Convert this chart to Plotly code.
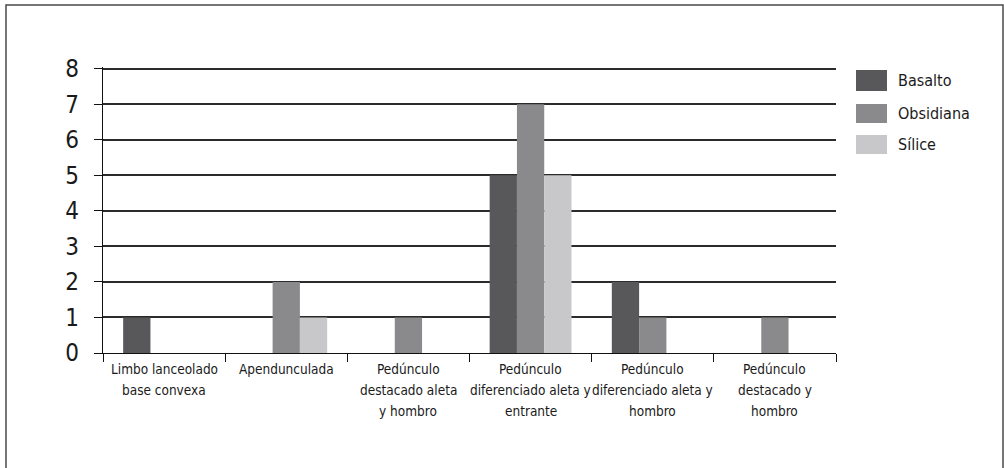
import plotly.graph_objects as go

categories = [
    "Limbo lanceolado<br>base convexa",
    "Apendunculada",
    "Pedúnculo<br>destacado aleta<br>y hombro",
    "Pedúnculo<br>diferenciado aleta y<br>entrante",
    "Pedúnculo<br>diferenciado aleta y<br>hombro",
    "Pedúnculo<br>destacado y<br>hombro",
]
series_names = ["Basalto", "Obsidiana", "Sílice"]
basalto = [1, 0, 0, 5, 2, 0]
obsidiana = [0, 2, 1, 7, 1, 1]
silice = [0, 1, 0, 5, 0, 0]
colors = ["#58585a", "#8a8a8c", "#c8c8ca"]
y_ticks = [0, 1, 2, 3, 4, 5, 6, 7, 8]

FONT = "DejaVu Sans Condensed, Liberation Sans Narrow, sans-serif"

W, H = 1004, 468
L, R, T, B = 103, 836, 67, 353  # plot area in pixels


def px(x):
    return (x - L) / (R - L)


def py(y):
    return (B - y) / (B - T)


fig = go.Figure()
for name, vals, col in zip(series_names, [basalto, obsidiana, silice], colors):
    fig.add_trace(go.Bar(
        name=name, x=categories, y=vals,
        marker=dict(color=col, line=dict(width=0)),
        showlegend=False,
    ))

shapes = [
    dict(type="rect", xref="paper", yref="paper",
         x0=px(6), x1=px(1003), y0=py(480), y1=py(5),
         line=dict(color="#4a4a4a", width=1.5), fillcolor="rgba(0,0,0,0)"),
]
annotations = []
leg_y = [(70, 91), (104, 123), (135, 154)]
for name, col, (y0, y1) in zip(series_names, colors, leg_y):
    shapes.append(dict(type="rect", xref="paper", yref="paper",
                       x0=px(856), x1=px(887), y0=py(y1), y1=py(y0),
                       line=dict(width=0), fillcolor=col))
    annotations.append(dict(xref="paper", yref="paper", x=px(896), y=py((y0 + y1) / 2),
                            text=name, showarrow=False, xanchor="left", yanchor="middle",
                            font=dict(family=FONT, size=16, color="#1a1a1a")))

# category labels, one annotation per line, anchored on the category axis
line_centers = [369, 390, 411]
for cat in categories:
    for i, part in enumerate(cat.split("<br>")):
        annotations.append(dict(xref="x", yref="paper", x=cat, y=py(line_centers[i]),
                                text=part, showarrow=False, xanchor="center", yanchor="middle",
                                font=dict(family=FONT, size=13.5, color="#1a1a1a")))

fig.update_layout(
    width=W, height=H,
    margin=dict(l=L, r=W - R, t=T, b=H - B, pad=0),
    paper_bgcolor="white", plot_bgcolor="white",
    barmode="group", bargap=0.33, bargroupgap=0,
    shapes=shapes, annotations=annotations,
    font=dict(family=FONT, color="#1a1a1a"),
)
fig.update_xaxes(
    type="category", showline=True, linecolor="#111111", linewidth=1.2,
    ticks="outside", tickson="boundaries", ticklen=8, tickcolor="#111111", tickwidth=1.2,
    showgrid=False, showticklabels=False,
)
fig.update_yaxes(
    range=[0, 8.05], tickvals=y_ticks, showline=True, linecolor="#111111", linewidth=1.2,
    ticks="outside", ticklen=8, tickcolor="#111111", tickwidth=1.2,
    showgrid=True, gridcolor="#2b2b2b", gridwidth=1.6, zeroline=False,
    tickfont=dict(family=FONT, size=24, color="#1a1a1a"), ticklabelstandoff=10,
)

fig.write_html("out.html", config={"displayModeBar": False},
               post_script="document.body.style.margin='0';")
